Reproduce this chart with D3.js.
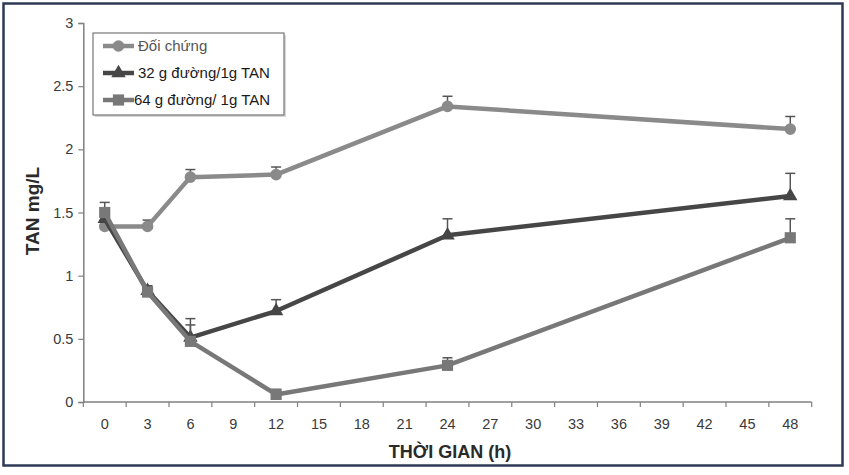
<!DOCTYPE html>
<html>
<head>
<meta charset="utf-8">
<script src="https://cdn.jsdelivr.net/npm/d3@7"></script>
<style>
  body { margin: 0; background: #fff; }
  svg { display: block; font-family: "Liberation Sans", Arial, sans-serif; }
</style>
</head>
<body>
<svg width="849" height="475"></svg>
<script>
"use strict";

// category axis (Excel style), one band per 3 h
const TICK_LABELS = ["0", "3", "6", "9", "12", "15", "18", "21", "24", "27", "30", "33", "36", "39", "42", "45", "48"];
const HOURS = ["0", "3", "6", "12", "24", "48"];
const Y_TICKS = [0, 0.5, 1, 1.5, 2, 2.5, 3];

const SERIES_NAMES = ["Đối chứng", "32 g đường/1g TAN", "64 g đường/ 1g TAN"];
const controlValues = [1.39, 1.39, 1.78, 1.80, 2.34, 2.16];
const controlErr = [0.05, 0.05, 0.06, 0.06, 0.08, 0.10];
const sugar32Values = [1.45, 0.88, 0.51, 0.72, 1.32, 1.63];
const sugar32Err = [0.06, 0.04, 0.10, 0.09, 0.13, 0.18];
const sugar64Values = [1.50, 0.87, 0.48, 0.06, 0.29, 1.30];
const sugar64Err = [0.08, 0.04, 0.18, 0.04, 0.06, 0.15];

const series = [
    { name: SERIES_NAMES[0], values: controlValues, err: controlErr, color: "#8a8a8a", shape: d3.symbolCircle, size: 105 },
    { name: SERIES_NAMES[1], values: sugar32Values, err: sugar32Err, color: "#464646", shape: d3.symbolTriangle, size: 90 },
    { name: SERIES_NAMES[2], values: sugar64Values, err: sugar64Err, color: "#787878", shape: d3.symbolSquare, size: 125 }
];

const svg = d3.select("svg");

// outer frame of the scanned figure
svg.append("rect")
    .attr("x", 3.5).attr("y", 3.5)
    .attr("width", 839).attr("height", 462)
    .attr("fill", "none")
    .attr("stroke", "#2e3a55")
    .attr("stroke-width", 2.5);

const plotLeft = 83.3, plotRight = 811.7, plotTop = 23, plotBottom = 402;

const xScale = d3.scaleBand()
    .domain(TICK_LABELS)
    .range([plotLeft, plotRight]);

const yScale = d3.scaleLinear()
    .domain([0, 3])
    .range([plotBottom, plotTop]);

// x axis: ticks on band edges, labels at band centres
const xAxis = svg.append("g").attr("transform", `translate(0, ${plotBottom})`);
xAxis.append("line")
    .attr("x1", plotLeft).attr("x2", plotRight)
    .attr("stroke", "#808080").attr("stroke-width", 1.5);
xAxis.selectAll(".edge")
    .data(TICK_LABELS.concat(["end"]))
    .join("line")
    .attr("class", "edge")
    .attr("x1", (d, i) => plotLeft + i * xScale.bandwidth())
    .attr("x2", (d, i) => plotLeft + i * xScale.bandwidth())
    .attr("y1", 0).attr("y2", 5)
    .attr("stroke", "#808080").attr("stroke-width", 1.2);
xAxis.selectAll("text")
    .data(TICK_LABELS)
    .join("text")
    .attr("x", d => xScale(d) + xScale.bandwidth() / 2)
    .attr("y", 27)
    .attr("text-anchor", "middle")
    .attr("font-size", 14.5)
    .attr("fill", "#3a3a3a")
    .text(d => d);

// y axis
const yAxis = svg.append("g")
    .attr("transform", `translate(${plotLeft}, 0)`)
    .call(d3.axisLeft(yScale).tickValues(Y_TICKS).tickSize(5).tickPadding(5).tickFormat(d3.format("")));
yAxis.select(".domain").attr("stroke", "#808080").attr("stroke-width", 1.5);
yAxis.selectAll(".tick line").attr("stroke", "#808080").attr("stroke-width", 1.2);
yAxis.selectAll(".tick text")
    .attr("font-size", 14.5)
    .attr("fill", "#3a3a3a")
    .attr("font-family", "Liberation Sans, Arial, sans-serif");

// axis titles
svg.append("text")
    .attr("transform", "translate(39 211) rotate(-90)")
    .attr("text-anchor", "middle")
    .attr("font-size", 19)
    .attr("font-weight", "bold")
    .attr("fill", "#2a2a2a")
    .text("TAN mg/L");

svg.append("text")
    .attr("x", 450)
    .attr("y", 458)
    .attr("text-anchor", "middle")
    .attr("font-size", 18)
    .attr("font-weight", "bold")
    .attr("fill", "#2a2a2a")
    .text("THỜI GIAN (h)");

const cx = h => xScale(h) + xScale.bandwidth() / 2;

const line = d3.line()
    .x((d, i) => cx(HOURS[i]))
    .y(d => yScale(d));

series.forEach(s => {
    const g = svg.append("g");
    // plus error bars
    g.selectAll(".err")
        .data(s.values)
        .join("g")
        .attr("class", "err")
        .each(function (v, i) {
            const x = cx(HOURS[i]);
            const y0 = yScale(v), y1 = yScale(v + s.err[i]);
            d3.select(this).append("line")
                .attr("x1", x).attr("x2", x).attr("y1", y0).attr("y2", y1)
                .attr("stroke", "#555").attr("stroke-width", 1.5);
            d3.select(this).append("line")
                .attr("x1", x - 5).attr("x2", x + 5).attr("y1", y1).attr("y2", y1)
                .attr("stroke", "#555").attr("stroke-width", 1.5);
        });
    g.append("path")
        .datum(s.values)
        .attr("d", line)
        .attr("fill", "none")
        .attr("stroke", s.color)
        .attr("stroke-width", 4.5)
        .attr("stroke-linejoin", "round");
    g.selectAll("path.mark")
        .data(s.values)
        .join("path")
        .attr("class", "mark")
        .attr("transform", (d, i) => `translate(${cx(HOURS[i])}, ${yScale(d)})`)
        .attr("d", d3.symbol().type(s.shape).size(s.size))
        .attr("fill", s.color);
});

// legend
const legend = svg.append("g").attr("transform", "translate(93, 33)");
legend.append("rect")
    .attr("x", 2).attr("y", 2)
    .attr("width", 191).attr("height", 82)
    .attr("fill", "#d8d8d8");
legend.append("rect")
    .attr("width", 191).attr("height", 82)
    .attr("fill", "#fff")
    .attr("stroke", "#777").attr("stroke-width", 1.2);
series.forEach((s, i) => {
    const y = 13 + i * 27;
    legend.append("line")
        .attr("x1", 10).attr("x2", 41).attr("y1", y).attr("y2", y)
        .attr("stroke", s.color).attr("stroke-width", 4.5);
    legend.append("path")
        .attr("transform", `translate(25.5, ${y})`)
        .attr("d", d3.symbol().type(s.shape).size(s.size))
        .attr("fill", s.color);
    legend.append("text")
        .attr("x", i === 2 ? 41 : 45)
        .attr("y", y + 5)
        .attr("font-size", 15)
        .attr("fill", i === 0 ? "#555" : "#1a1a1a")
        .text(s.name);
});
</script>
</body>
</html>
